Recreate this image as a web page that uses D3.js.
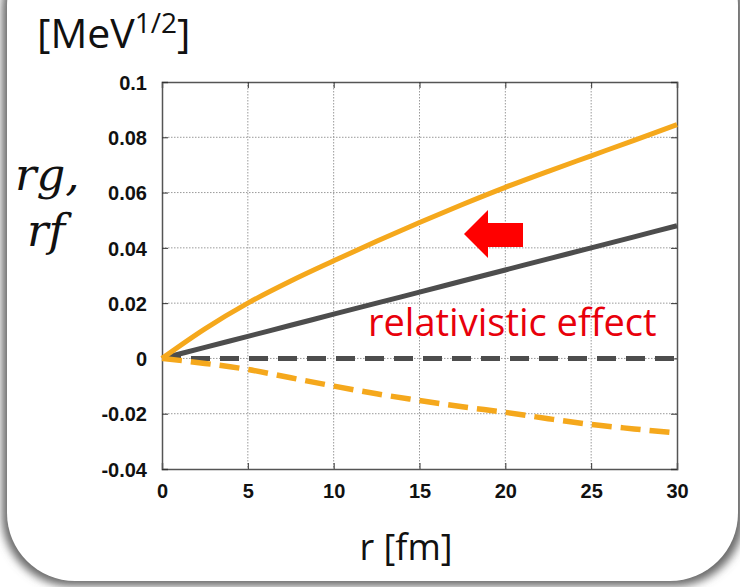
<!DOCTYPE html>
<html><head><meta charset="utf-8">
<script src="https://cdn.jsdelivr.net/npm/d3@7"></script>
<style>body{margin:0;background:#fff;}svg{display:block;}</style>
</head><body>
<script>
const rValues = [0, 2.5, 5, 7.5, 10, 12.5, 15, 17.5, 20, 22.5, 25, 27.5, 30];
const rgRelativistic = [0, 0.0107, 0.0200, 0.0280, 0.0353, 0.0424, 0.0492, 0.0557, 0.0619, 0.0677, 0.0733, 0.0789, 0.0846];
const rgNonRel = [0, 0.004, 0.008, 0.012, 0.016, 0.020, 0.024, 0.028, 0.032, 0.036, 0.040, 0.044, 0.048];
const rfRelativistic = [0, -0.0018, -0.0040, -0.0070, -0.0100, -0.0128, -0.0152, -0.0175, -0.0195, -0.0218, -0.0239, -0.0255, -0.0270];
const rfNonRel = [0, 0, 0, 0, 0, 0, 0, 0, 0, 0, 0, 0, 0];
const xTicks = [0, 5, 10, 15, 20, 25, 30];
const yTicks = [-0.04, -0.02, 0, 0.02, 0.04, 0.06, 0.08, 0.1];
const yTickLabels = ["-0.04", "-0.02", "0", "0.02", "0.04", "0.06", "0.08", "0.1"];

const W = 740, H = 587;
const svg = d3.select("body").append("svg").attr("width", W).attr("height", H);
const defs = svg.append("defs");
svg.append("rect").attr("width",W).attr("height",H).attr("fill","#ffffff");
const flt = defs.append("filter").attr("id","sh").attr("x","-10%").attr("y","-10%").attr("width","120%").attr("height","120%");
flt.append("feGaussianBlur").attr("stdDeviation",4);
svg.append("rect").attr("x",2).attr("y",-60).attr("width",742).attr("height",646).attr("rx",70)
  .attr("fill","#6a6a6a").attr("filter","url(#sh)");
svg.append("rect").attr("x",7).attr("y",-62).attr("width",731).attr("height",643).attr("rx",68).attr("fill","#ffffff");

const m = {l:162, r:677, t:82, b:469};
const x = d3.scaleLinear().domain([0,30]).range([m.l, m.r]);
const y = d3.scaleLinear().domain([-0.04,0.1]).range([m.b, m.t]);

const g = svg.append("g");
g.selectAll(".vg").data(xTicks.slice(1,-1)).join("line")
  .attr("x1",d=>x(d)).attr("x2",d=>x(d)).attr("y1",m.t).attr("y2",m.b)
  .attr("stroke","#9a9a9a").attr("stroke-width",1).attr("stroke-dasharray","1.5,1.5");
g.selectAll(".hg").data(yTicks.slice(1,-1)).join("line")
  .attr("x1",m.l).attr("x2",m.r).attr("y1",d=>y(d)).attr("y2",d=>y(d))
  .attr("stroke","#9a9a9a").attr("stroke-width",1).attr("stroke-dasharray","1.5,1.5");

const ax = d3.axisBottom(x).tickValues(xTicks).tickSize(-6).tickPadding(15).tickFormat(d3.format("d"));
const gx = svg.append("g").attr("transform",`translate(0,${m.b})`).call(ax);
const axT = d3.axisTop(x).tickValues(xTicks).tickSize(-6).tickFormat("");
svg.append("g").attr("transform",`translate(0,${m.t})`).call(axT);
const ay = d3.axisLeft(y).tickValues(yTicks).tickSize(-6).tickPadding(15).tickFormat((d,i)=>yTickLabels[i]);
const gy = svg.append("g").attr("transform",`translate(${m.l},0)`).call(ay);
const ayR = d3.axisRight(y).tickValues(yTicks).tickSize(-6).tickFormat("");
svg.append("g").attr("transform",`translate(${m.r},0)`).call(ayR);
svg.selectAll(".domain").attr("stroke","#555").attr("stroke-width",1.5);
svg.selectAll(".tick line").attr("stroke","#333");
svg.selectAll(".tick text").attr("font-family","Liberation Sans, Arial, sans-serif")
  .attr("font-size",20).attr("font-weight","bold").attr("fill","#111");
gx.selectAll(".tick text").attr("dy","0.71em");
gy.selectAll(".tick text").attr("dy","0.36em");

const line = d3.line().x((d,i)=>x(rValues[i])).y(d=>y(d)).curve(d3.curveMonotoneX);
const orange = "#f5a81c", gray = "#4d4d4d";
svg.append("path").attr("d",line(rfNonRel)).attr("fill","none").attr("stroke",gray).attr("stroke-width",5).attr("stroke-dasharray","19,10");
svg.append("path").attr("d",line(rgNonRel)).attr("fill","none").attr("stroke",gray).attr("stroke-width",5);
svg.append("path").attr("d",line(rfRelativistic)).attr("fill","none").attr("stroke",orange).attr("stroke-width",5.5).attr("stroke-dasharray","20,9");
svg.append("path").attr("d",line(rgRelativistic)).attr("fill","none").attr("stroke",orange).attr("stroke-width",5);

const ar = [[464,234],[488,210],[488,223],[523,223],[523,247],[488,247],[488,258]];
svg.append("path").attr("d",d3.line()(ar)+"Z").attr("fill","#ff0000");

svg.append("text").attr("x",368).attr("y",336).attr("fill","#e8000b")
  .attr("font-family","Open Sans, Noto Sans, sans-serif").attr("font-size",38).text("relativistic effect");

const unit = svg.append("text").attr("x",37).attr("y",48).attr("font-family","Open Sans, Noto Sans, sans-serif")
  .attr("font-size",41).attr("fill","#111");
unit.append("tspan").text("[MeV");
unit.append("tspan").attr("font-size",28).attr("dy",-15).text("1/2");
unit.append("tspan").attr("dy",15).text("]");

svg.append("text").attr("x",15).attr("y",190).attr("font-family","DejaVu Serif, serif").attr("font-style","italic")
  .attr("font-size",45).attr("fill","#111").text("rg,");
svg.append("text").attr("x",27).attr("y",246).attr("font-family","DejaVu Serif, serif").attr("font-style","italic")
  .attr("font-size",45).attr("fill","#111").text("rf");

svg.append("text").attr("x",406).attr("y",560).attr("text-anchor","middle").attr("font-family","Open Sans, Noto Sans, sans-serif")
  .attr("font-size",36).attr("fill","#111").text("r [fm]");
</script>
</body></html>
